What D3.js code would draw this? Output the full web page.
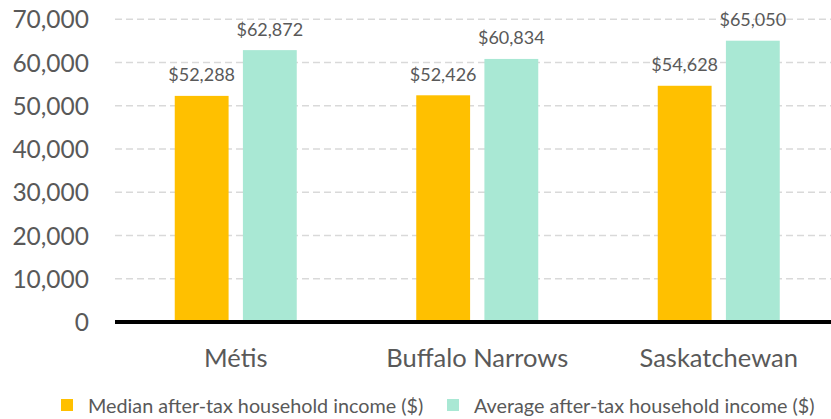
<!DOCTYPE html>
<html><head><meta charset="utf-8">
<script src="https://cdn.jsdelivr.net/npm/d3@7"></script>
<style>body{margin:0;background:#fff}svg{display:block}text{font-family:Lato,"Noto Sans",sans-serif;fill:#595959}</style>
</head><body>
<svg id="c" width="831" height="419"></svg>
<script>
const categories = ["Métis", "Buffalo Narrows", "Saskatchewan"];
const seriesNames = ["Median after-tax household income ($)", "Average after-tax household income ($)"];
const median = [52288, 52426, 54628];
const average = [62872, 60834, 65050];
const yTicks = [0, 10000, 20000, 30000, 40000, 50000, 60000, 70000];
const colors = ["#FFC000", "#A9E8D4"];

const svg = d3.select("#c");
const y = d3.scaleLinear().domain([0, 70000]).range([322, 19.3]);
const x0 = d3.scaleBand().domain(categories).range([115, 839.5]).padding(0);
const x1 = d3.scaleBand().domain([0, 1]).range([59.75, 181.75]).paddingInner(0.21).paddingOuter(0);
const series = [median, average];

// gridlines
svg.append("g").selectAll("line").data(yTicks.filter(d => d > 0)).join("line")
  .attr("x1", 115).attr("x2", 831).attr("y1", d => y(d)).attr("y2", d => y(d))
  .attr("stroke", "#D9D9D9").attr("stroke-width", 1.5).attr("stroke-dasharray", "7,4");

// y axis labels
const yAxis = d3.axisLeft(y).tickValues(yTicks).tickSize(0).tickPadding(0).tickFormat(d3.format(","));
const yg = svg.append("g").attr("transform", "translate(89,0)").call(yAxis);
yg.select(".domain").remove();
yg.selectAll("text").style("font-size", "24.5px").attr("fill", "#595959").attr("dy", "0.35em");

// bars
const groups = svg.append("g").selectAll("g").data(categories).join("g")
  .attr("transform", d => `translate(${x0(d)},0)`);
groups.each(function(cat, i) {
  const g = d3.select(this);
  series.forEach((s, k) => {
    g.append("rect").attr("x", x1(k)).attr("width", x1.bandwidth())
      .attr("y", y(s[i])).attr("height", y(0) - y(s[i])).attr("fill", colors[k]);
    g.append("text").attr("x", x1(k) + x1.bandwidth() / 2).attr("y", y(s[i]) - 14.5)
      .attr("text-anchor", "middle").style("font-size", "18px").attr("fill", "#404040")
      .text("$" + d3.format(",")(s[i]));
  });
});

// baseline
svg.append("line").attr("x1", 115).attr("x2", 831).attr("y1", y(0)).attr("y2", y(0))
  .attr("stroke", "#000").attr("stroke-width", 4);

// category labels
const xAxis = d3.axisBottom(x0).tickSize(0).tickPadding(0);
const xg = svg.append("g").call(xAxis);
xg.select(".domain").remove();
xg.selectAll("text").attr("y", 366.7).attr("dy", 0).style("font-size", "25.5px").attr("fill", "#595959");

// legend
const legendX = [61, 447];
const lg = svg.append("g").selectAll("g").data(seriesNames).join("g")
  .attr("transform", (d, i) => `translate(${legendX[i]},399)`);
lg.append("rect").attr("width", 12).attr("height", 12).attr("fill", (d, i) => colors[i]);
lg.append("text").attr("x", 27).attr("y", 13.5).style("font-size", "19.8px").attr("fill", "#595959").text(d => d);
</script>
</body></html>
